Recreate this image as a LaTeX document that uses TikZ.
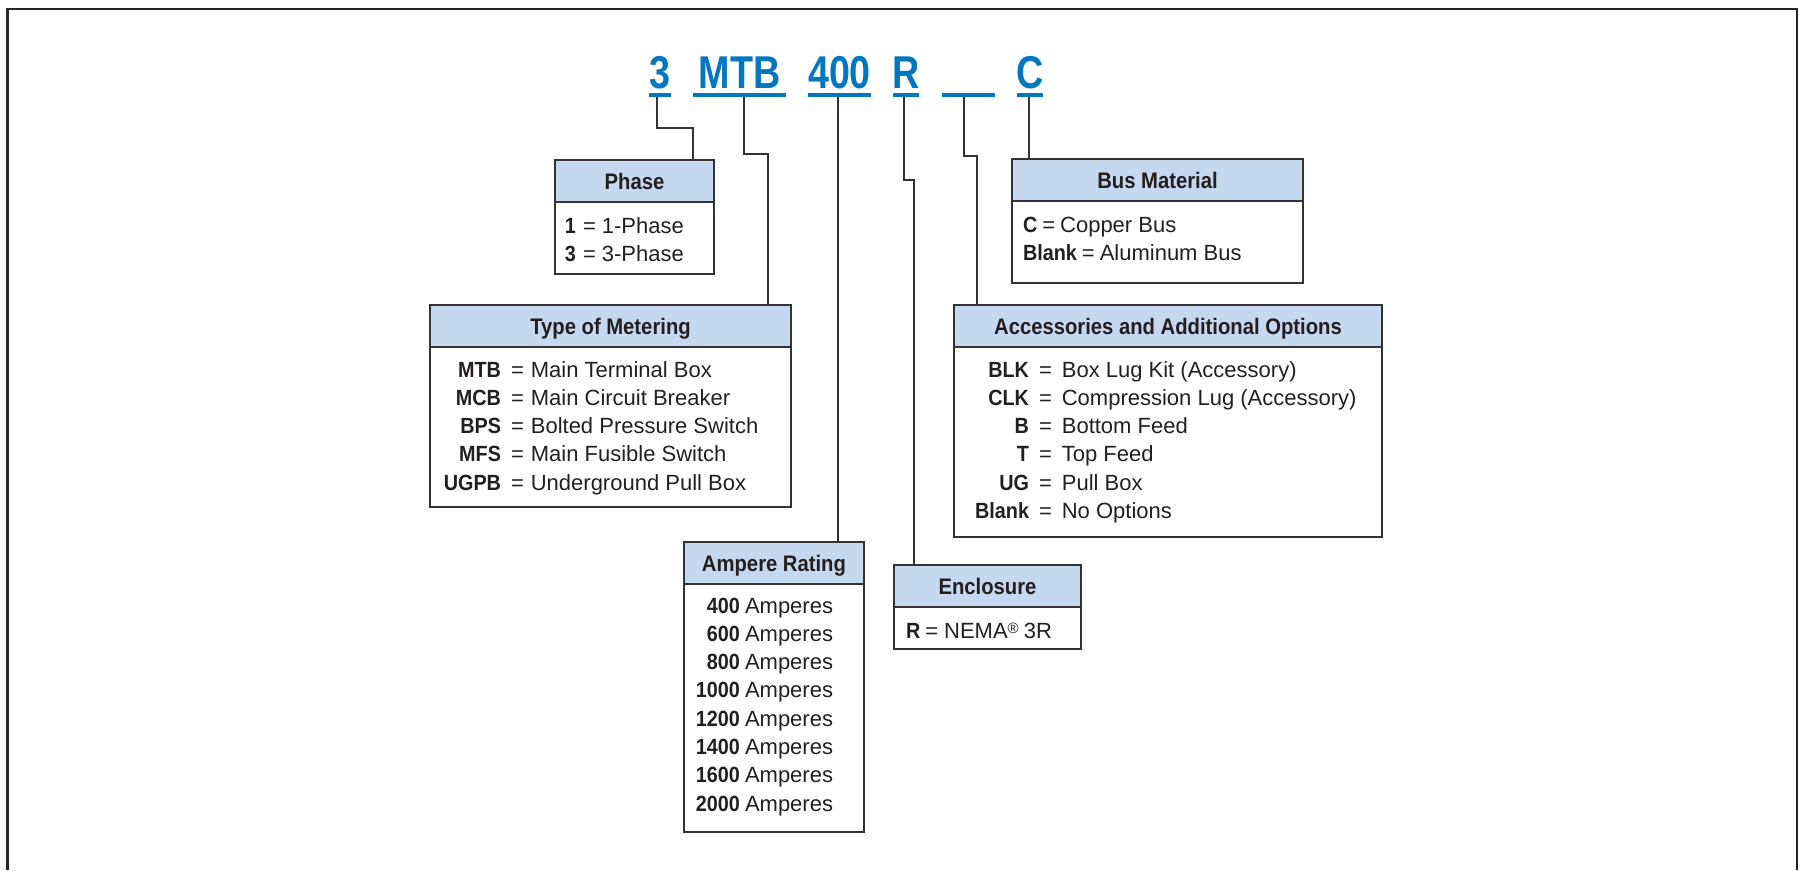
\documentclass[tikz,border=0pt]{standalone}
\usepackage{fontspec}
\setmainfont{Liberation Sans}
\newfontfamily\ttlfont{Liberation Sans}[FakeStretch=0.82]
\newfontfamily\cndfont{Liberation Sans}[FakeStretch=0.9]
\newcommand\keytxt[1]{{\cndfont\bfseries #1}}
\definecolor{ink}{RGB}{35,31,32}
\definecolor{hdrfill}{RGB}{198,216,239}
\definecolor{ttlblue}{RGB}{0,119,192}
\definecolor{edge}{RGB}{51,51,51}
\begin{document}
\begin{tikzpicture}[x=1pt,y=-1pt,
  box/.style={draw=edge, line width=2pt, inner sep=0pt, outer sep=0pt, anchor=north west},
  hdr/.style={box, fill=hdrfill, minimum height=42pt, text=ink,
     font=\cndfont\bfseries\fontsize{22.5}{26}\selectfont, text height=16pt, text depth=0pt},
  body/.style={inner sep=0pt, outer sep=0pt, text=ink, font=\fontsize{22}{28.3}\selectfont},
  ttl/.style={inner sep=0pt, anchor=base, text=ttlblue, font=\ttlfont\bfseries\fontsize{46}{50}\selectfont},
  ubar/.style={fill=ttlblue, inner sep=0pt, outer sep=0pt, minimum height=4pt, anchor=north},
  conn/.style={draw=edge, line width=1.6pt},
  frame/.style={draw=black!85, line width=2.5pt}
]
\useasboundingbox (0,0) rectangle (1806,870);
\draw[frame] (7.5,870) -- (7.5,9) -- (1797,9) -- (1797,870);

% title
\node[ttl] (t3) at (660,88) {3};
\node[ttl] (tMTB) at (739.5,88) {MTB};
\node[ttl] (t400) at (839.5,88) {400};
\node[ttl] (tR) at (906,88) {R};
\node[ttl] (tC) at (1030,88) {C};
\node[ubar, minimum width=22pt] (u3) at (660,93) {};
\node[ubar, minimum width=93pt] (uMTB) at (739.5,93) {};
\node[ubar, minimum width=63pt] (u400) at (839.5,93) {};
\node[ubar, minimum width=26pt] (uR) at (906,93) {};
\node[ubar, minimum width=53pt] (uB) at (968.5,93) {};
\node[ubar, minimum width=26pt] (uC) at (1030,93) {};

% boxes
\node[box, minimum width=159pt, minimum height=114pt] (phase) at (555,160) {};
\node[hdr, minimum width=159pt] (phaseH) at (555,160) {Phase};
\node[box, minimum width=361pt, minimum height=202pt] (meter) at (430,305) {};
\node[hdr, minimum width=361pt] (meterH) at (430,305) {Type of Metering};
\node[box, minimum width=180pt, minimum height=290pt] (amp) at (684,542) {};
\node[hdr, minimum width=180pt] (ampH) at (684,542) {Ampere Rating};
\node[box, minimum width=187pt, minimum height=84pt] (enc) at (894,565) {};
\node[hdr, minimum width=187pt] (encH) at (894,565) {Enclosure};
\node[box, minimum width=291pt, minimum height=124pt] (bus) at (1012,159) {};
\node[hdr, minimum width=291pt] (busH) at (1012,159) {Bus Material};
\node[box, minimum width=428pt, minimum height=232pt] (acc) at (954,305) {};
\node[hdr, minimum width=428pt] (accH) at (954,305) {Accessories and Additional Options};

% bodies
\node[body, anchor=base east] (phaseK) at (576,233) {\begin{tabular}[t]{@{}r@{}}\keytxt{1}\\\keytxt{3}\end{tabular}};
\node[body, anchor=base west] (phaseD) at (583,233) {\begin{tabular}[t]{@{}l@{}}=\hspace{6pt}1-Phase\\=\hspace{6pt}3-Phase\end{tabular}};

\node[body, anchor=base east] (meterK) at (501,377) {\begin{tabular}[t]{@{}r@{}}\keytxt{MTB}\\\keytxt{MCB}\\\keytxt{BPS}\\\keytxt{MFS}\\\keytxt{UGPB}\end{tabular}};
\node[body, anchor=base west] (meterD) at (511,377) {\begin{tabular}[t]{@{}l@{}}=\hspace{7pt}Main Terminal Box\\=\hspace{7pt}Main Circuit Breaker\\=\hspace{7pt}Bolted Pressure Switch\\=\hspace{7pt}Main Fusible Switch\\=\hspace{7pt}Underground Pull Box\end{tabular}};

\node[body, anchor=base east] (ampK) at (740,613) {\begin{tabular}[t]{@{}r@{}}\keytxt{400}\\\keytxt{600}\\\keytxt{800}\\\keytxt{1000}\\\keytxt{1200}\\\keytxt{1400}\\\keytxt{1600}\\\keytxt{2000}\end{tabular}};
\node[body, anchor=base west] (ampD) at (745,613) {\begin{tabular}[t]{@{}l@{}}Amperes\\Amperes\\Amperes\\Amperes\\Amperes\\Amperes\\Amperes\\Amperes\end{tabular}};

\node[body, anchor=base west] (encD) at (906,638) {\keytxt{R}\hspace{5pt}=\hspace{6pt}NEMA\raisebox{5pt}{\fontsize{15}{15}\selectfont ®}\hspace{5pt}3R};

\node[body, anchor=base west] (busD) at (1023,232) {\begin{tabular}[t]{@{}l@{}}\keytxt{C}\hspace{5pt}=\hspace{5pt}Copper Bus\\\keytxt{Blank}\hspace{5pt}=\hspace{5pt}Aluminum Bus\end{tabular}};

\node[body, anchor=base east] (accK) at (1029,377) {\begin{tabular}[t]{@{}r@{}}\keytxt{BLK}\\\keytxt{CLK}\\\keytxt{B}\\\keytxt{T}\\\keytxt{UG}\\\keytxt{Blank}\end{tabular}};
\node[body, anchor=base west] (accD) at (1039,377) {\begin{tabular}[t]{@{}l@{}}=\hspace{10pt}Box Lug Kit (Accessory)\\=\hspace{10pt}Compression Lug (Accessory)\\=\hspace{10pt}Bottom Feed\\=\hspace{10pt}Top Feed\\=\hspace{10pt}Pull Box\\=\hspace{10pt}No Options\end{tabular}};

% connectors
\coordinate (j3) at (693,128);
\coordinate (jMTB) at (768,154);
\coordinate (jR) at (914,180);
\coordinate (jB) at (977,156);
\draw[conn] ([xshift=-3pt]u3.south) |- (j3) -- (j3 |- phase.north);
\draw[conn] ([xshift=4.5pt]uMTB.south) |- (jMTB) -- (jMTB |- meter.north);
\draw[conn] ([xshift=-1.5pt]u400.south) -- ([xshift=-1.5pt]u400.south |- amp.north);
\draw[conn] ([xshift=-2pt]uR.south) |- (jR) -- (jR |- enc.north);
\draw[conn] ([xshift=-4.5pt]uB.south) |- (jB) -- (jB |- acc.north);
\draw[conn] ([xshift=-1pt]uC.south) -- ([xshift=-1pt]uC.south |- bus.north);
\end{tikzpicture}
\end{document}
